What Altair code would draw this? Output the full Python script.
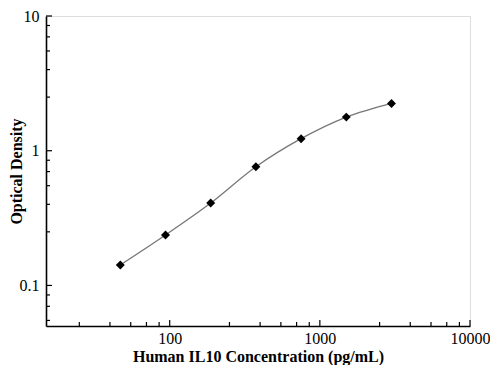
import altair as alt
import pandas as pd

# Data
conc = [46.88, 93.75, 187.5, 375, 750, 1500, 3000]
od = [0.142, 0.237, 0.409, 0.760, 1.229, 1.776, 2.245]

x_major = [100, 1000, 10000]
x_minor = [25, 40, 55, 70, 85, 250, 400, 550, 700, 850, 2500, 4000, 5500, 7000, 8500]
y_major = [0.1, 1, 10]
y_minor = [0.055, 0.07, 0.085, 0.25, 0.4, 0.55, 0.7, 0.85, 2.5, 4, 5.5, 7, 8.5]

X_DOMAIN = [15, 10000]
Y_DOMAIN = [0.05, 10]

W, H = 424, 310
FONT = "Liberation Serif"

df = pd.DataFrame({"conc": conc, "od": od})

xs = alt.Scale(type="log", domain=X_DOMAIN, nice=False)
ys = alt.Scale(type="log", domain=Y_DOMAIN, nice=False)

x_axis = alt.Axis(
    title="Human IL10 Concentration (pg/mL)",
    values=x_major, format="~g", ticks=False, grid=False,
    domainColor="black", domainWidth=1.6,
    labelFont=FONT, labelFontSize=16, labelColor="black", labelPadding=4,
    titleFont=FONT, titleFontSize=16, titleFontWeight="bold", titleColor="black",
    titleY=35, titleBaseline="alphabetic", labelFlush=False,
)
y_axis = alt.Axis(
    title="Optical Density",
    values=y_major, format="~g", ticks=False, grid=False,
    domainColor="black", domainWidth=1.6,
    labelFont=FONT, labelFontSize=16, labelColor="black", labelPadding=7,
    titleFont=FONT, titleFontSize=16, titleFontWeight="bold", titleColor="black",
    titleX=-22, titleY=H / 2, labelFlush=False,
)

line = alt.Chart(df).mark_line(interpolate="catmull-rom", color="#777777", strokeWidth=1.3).encode(
    x=alt.X("conc:Q", scale=xs, axis=x_axis),
    y=alt.Y("od:Q", scale=ys, axis=y_axis),
)
pts = alt.Chart(df).mark_point(shape="diamond", filled=True, color="black", size=80, opacity=1).encode(
    x=alt.X("conc:Q", scale=xs),
    y=alt.Y("od:Q", scale=ys),
)

xmaj = alt.Chart(pd.DataFrame({"v": x_major})).mark_rule(color="black", strokeWidth=1.2).encode(
    x=alt.X("v:Q", scale=xs), y=alt.value(H), y2=alt.value(H - 6))
xmin = alt.Chart(pd.DataFrame({"v": x_minor})).mark_rule(color="black", strokeWidth=1.2).encode(
    x=alt.X("v:Q", scale=xs), y=alt.value(H), y2=alt.value(H - 4))
ymaj = alt.Chart(pd.DataFrame({"v": y_major})).mark_rule(color="black", strokeWidth=1.2).encode(
    y=alt.Y("v:Q", scale=ys), x=alt.value(0), x2=alt.value(6))
ymin = alt.Chart(pd.DataFrame({"v": y_minor})).mark_rule(color="black", strokeWidth=1.2).encode(
    y=alt.Y("v:Q", scale=ys), x=alt.value(0), x2=alt.value(4))

chart = alt.layer(xmaj, xmin, ymaj, ymin, line, pts).properties(
    width=W, height=H,
    autosize=alt.AutoSizeParams(type="none"),
    padding={"left": 38, "top": 8, "right": 20, "bottom": 39},
).configure_view(stroke=None).configure(background="white")

chart.save("out.html", embed_options={"renderer": "svg", "actions": False})
